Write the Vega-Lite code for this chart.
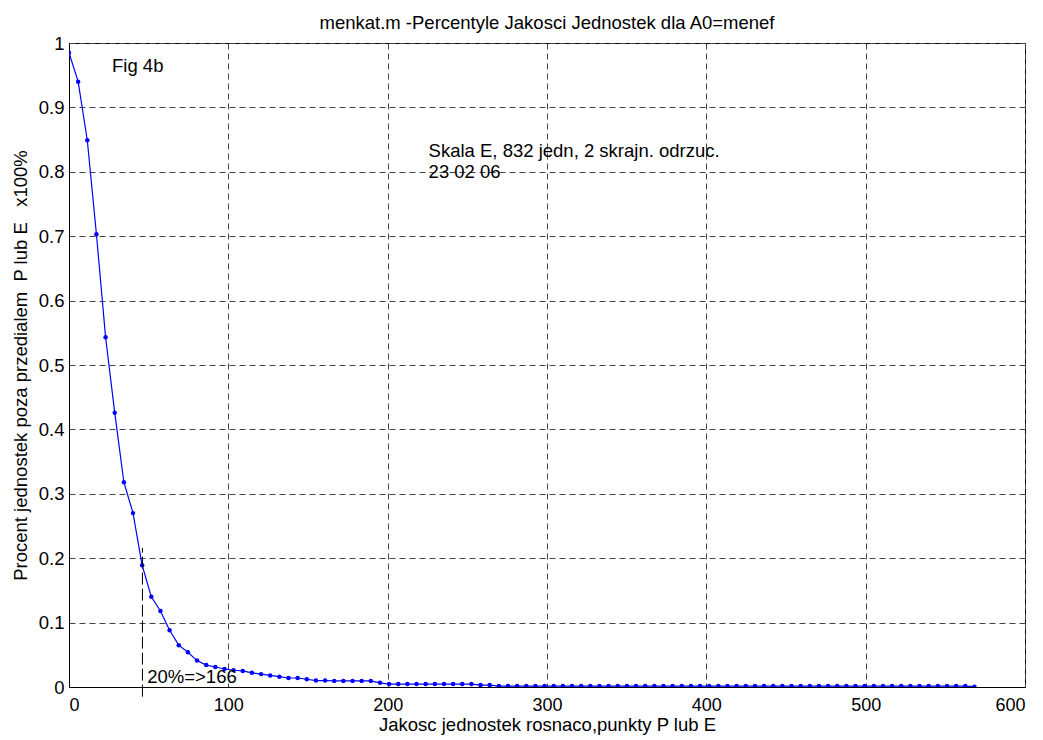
{
  "$schema": "https://vega.github.io/schema/vega-lite/v6.json",
  "autosize": "none",
  "width": 956,
  "height": 644,
  "padding": {"left": 69, "top": 43, "right": 18, "bottom": 53},
  "background": "white",
  "config": {
    "font": "Liberation Sans",
    "view": {"stroke": "black", "strokeWidth": 1}
  },
  "title": {
    "text": "menkat.m -Percentyle Jakosci Jednostek dla A0=menef",
    "fontSize": 18.5,
    "fontWeight": "normal",
    "font": "Liberation Sans",
    "color": "black",
    "anchor": "middle",
    "offset": 2
  },
  "datasets": {
    "curve": [
      {"x": 0, "y": 0.985}, {"x": 5.74, "y": 0.94}, {"x": 11.48, "y": 0.849}, {"x": 17.22, "y": 0.703},
      {"x": 22.96, "y": 0.543}, {"x": 28.7, "y": 0.426}, {"x": 34.44, "y": 0.318}, {"x": 40.18, "y": 0.27},
      {"x": 45.92, "y": 0.189}, {"x": 51.66, "y": 0.14}, {"x": 57.4, "y": 0.118}, {"x": 63.14, "y": 0.088},
      {"x": 68.88, "y": 0.065}, {"x": 74.62, "y": 0.054}, {"x": 80.36, "y": 0.041}, {"x": 86.1, "y": 0.034},
      {"x": 91.84, "y": 0.031}, {"x": 97.58, "y": 0.028}, {"x": 103.32, "y": 0.026}, {"x": 109.06, "y": 0.025},
      {"x": 114.8, "y": 0.022}, {"x": 120.54, "y": 0.02}, {"x": 126.28, "y": 0.018}, {"x": 132.02, "y": 0.016},
      {"x": 137.76, "y": 0.014}, {"x": 143.5, "y": 0.014}, {"x": 149.24, "y": 0.012}, {"x": 154.98, "y": 0.01},
      {"x": 160.72, "y": 0.01}, {"x": 166.46, "y": 0.0095}, {"x": 172.2, "y": 0.0095}, {"x": 177.94, "y": 0.0095},
      {"x": 183.68, "y": 0.0095}, {"x": 189.42, "y": 0.0095}, {"x": 195.16, "y": 0.0065}, {"x": 200.9, "y": 0.0045},
      {"x": 206.64, "y": 0.0045}, {"x": 212.38, "y": 0.0045}, {"x": 218.12, "y": 0.0045}, {"x": 223.86, "y": 0.0045},
      {"x": 229.6, "y": 0.0045}, {"x": 235.34, "y": 0.0045}, {"x": 241.08, "y": 0.0045}, {"x": 246.82, "y": 0.0045},
      {"x": 252.56, "y": 0.0045}, {"x": 258.3, "y": 0.003}, {"x": 264.04, "y": 0.003}, {"x": 269.78, "y": 0.0015},
      {"x": 275.52, "y": 0.0015}, {"x": 281.26, "y": 0.0015}, {"x": 287, "y": 0.0015}, {"x": 292.74, "y": 0.0015},
      {"x": 298.48, "y": 0.0015}, {"x": 304.22, "y": 0.0015}, {"x": 309.96, "y": 0.0015}, {"x": 315.7, "y": 0.0015},
      {"x": 321.44, "y": 0.0015}, {"x": 327.18, "y": 0.0015}, {"x": 332.92, "y": 0.0015}, {"x": 338.66, "y": 0.0015},
      {"x": 344.4, "y": 0.0015}, {"x": 350.14, "y": 0.0015}, {"x": 355.88, "y": 0.0015}, {"x": 361.62, "y": 0.0015},
      {"x": 367.36, "y": 0.0015}, {"x": 373.1, "y": 0.0015}, {"x": 378.84, "y": 0.0015}, {"x": 384.58, "y": 0.0015},
      {"x": 390.32, "y": 0.0015}, {"x": 396.06, "y": 0.0015}, {"x": 401.8, "y": 0.0015}, {"x": 407.54, "y": 0.0015},
      {"x": 413.28, "y": 0.0015}, {"x": 419.02, "y": 0.0015}, {"x": 424.76, "y": 0.0015}, {"x": 430.5, "y": 0.0015},
      {"x": 436.24, "y": 0.0015}, {"x": 441.98, "y": 0.0015}, {"x": 447.72, "y": 0.0015}, {"x": 453.46, "y": 0.0015},
      {"x": 459.2, "y": 0.0015}, {"x": 464.94, "y": 0.0015}, {"x": 470.68, "y": 0.0015}, {"x": 476.42, "y": 0.0015},
      {"x": 482.16, "y": 0.0015}, {"x": 487.9, "y": 0.0015}, {"x": 493.64, "y": 0.0015}, {"x": 499.38, "y": 0.0015},
      {"x": 505.12, "y": 0.0015}, {"x": 510.86, "y": 0.0015}, {"x": 516.6, "y": 0.0015}, {"x": 522.34, "y": 0.0015},
      {"x": 528.08, "y": 0.0015}, {"x": 533.82, "y": 0.0015}, {"x": 539.56, "y": 0.0015}, {"x": 545.3, "y": 0.0015},
      {"x": 551.04, "y": 0.0015}, {"x": 556.78, "y": 0.0015}, {"x": 562.52, "y": 0.0015}, {"x": 568.26, "y": 0.0005}
    ],
    "marker": [{"x": 46.1, "y": -0.015, "y2": 0.216}],
    "notes": [
      {"x": 27, "y": 0.955, "label": "Fig 4b"},
      {"x": 225.7, "y": 0.8225, "label": "Skala E, 832 jedn, 2 skrajn. odrzuc."},
      {"x": 225.7, "y": 0.79, "label": "23 02 06"},
      {"x": 49.1, "y": 0.0067, "label": "20%=>166"}
    ]
  },
  "encoding": {
    "x": {
      "field": "x", "type": "quantitative",
      "scale": {"domain": [0, 600], "nice": false, "zero": false},
      "axis": {
        "values": [0, 100, 200, 300, 400, 500, 600],
        "title": "Jakosc jednostek rosnaco,punkty P lub E",
        "titleFontSize": 18.5, "titleFontWeight": "normal", "titleColor": "black", "titlePadding": 1,
        "labelFontSize": 18, "labelColor": "black", "labelPadding": 9,
        "ticks": false, "domainColor": "black",
        "grid": true, "gridColor": "#444", "gridDash": [6, 4], "gridOpacity": 1, "gridWidth": 1
      }
    },
    "y": {
      "field": "y", "type": "quantitative",
      "scale": {"domain": [0, 1], "nice": false, "zero": false},
      "axis": {
        "values": [0, 0.1, 0.2, 0.3, 0.4, 0.5, 0.6, 0.7, 0.8, 0.9, 1],
        "format": ".1~f",
        "title": "Procent jednostek poza przedialem \u00a0P lub E \u00a0 x100%",
        "titleFontSize": 18.5, "titleFontWeight": "normal", "titleColor": "black", "titlePadding": 8,
        "labelFontSize": 18.5, "labelColor": "black", "labelPadding": 5,
        "ticks": false, "domainColor": "black",
        "grid": true, "gridColor": "#444", "gridDash": [6, 4], "gridOpacity": 1, "gridWidth": 1
      }
    }
  },
  "layer": [
    {
      "data": {"name": "curve"},
      "mark": {"type": "line", "color": "#0000ff", "strokeWidth": 1.2, "clip": true},
      "encoding": {}
    },
    {
      "data": {"name": "curve"},
      "mark": {"type": "circle", "color": "#0000ff", "opacity": 1, "size": 20, "clip": true},
      "encoding": {}
    },
    {
      "data": {"name": "marker"},
      "mark": {"type": "rule", "color": "black", "strokeWidth": 1, "strokeDash": [12, 4]},
      "encoding": {"y2": {"field": "y2"}}
    },
    {
      "data": {"name": "notes"},
      "mark": {"type": "text", "align": "left", "baseline": "alphabetic", "fontSize": 18.5, "color": "black", "font": "Liberation Sans"},
      "encoding": {"text": {"field": "label"}}
    }
  ]
}
